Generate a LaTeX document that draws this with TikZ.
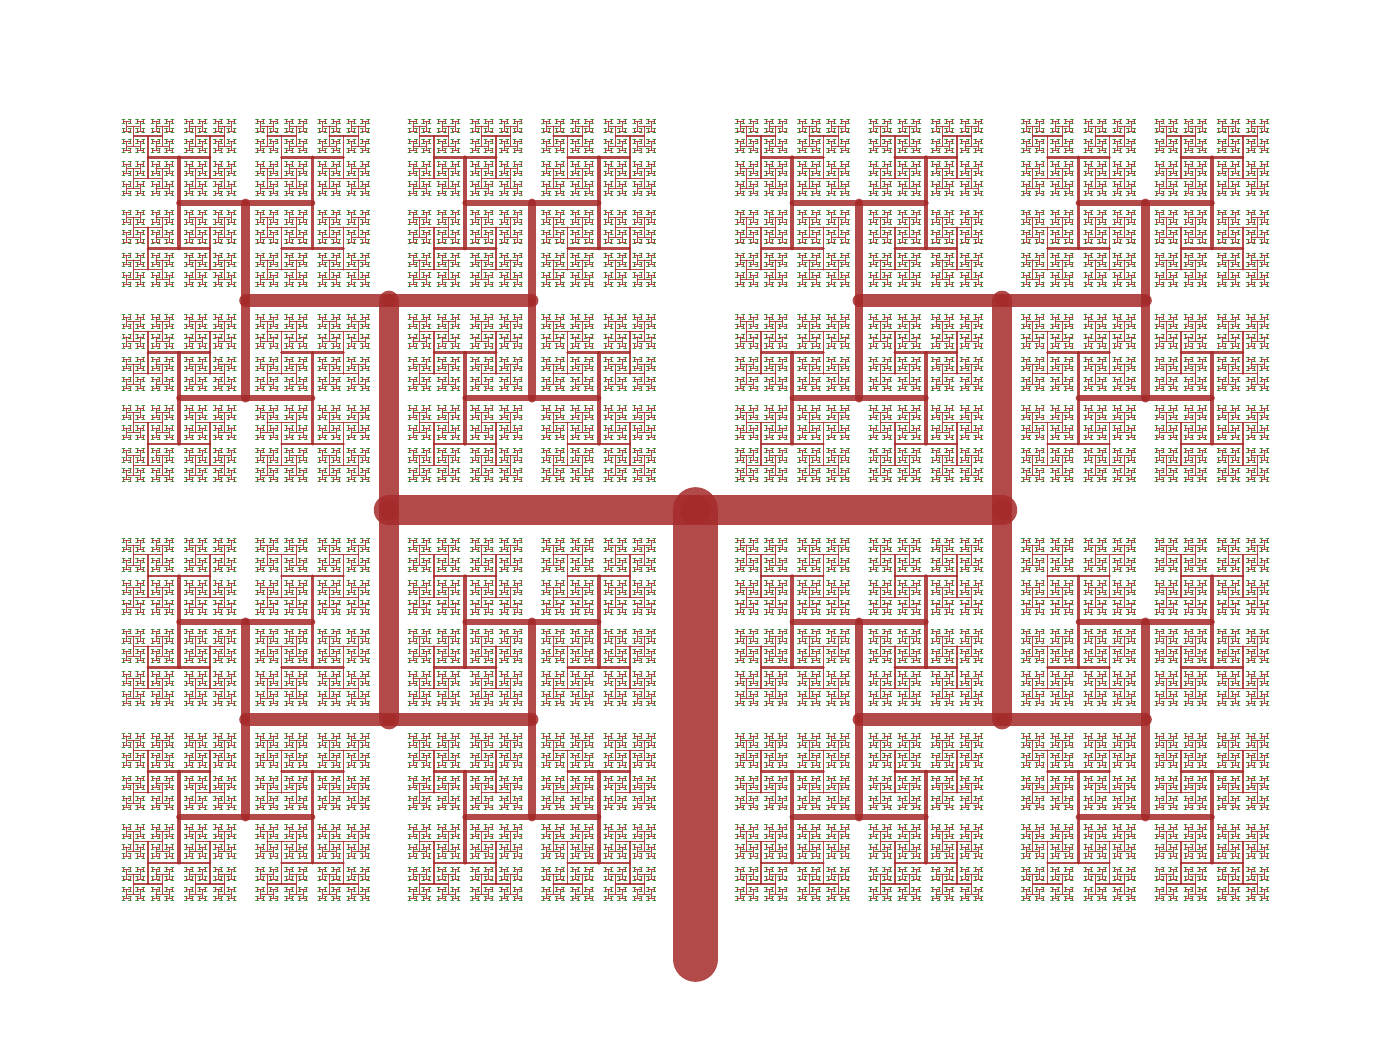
\documentclass[tikz,border=0pt]{standalone}
\definecolor{treebrown}{RGB}{165,42,42}
\definecolor{leafgreen}{RGB}{34,139,34}
\newdimen\tpx \newdimen\tpy \newdimen\tqx \newdimen\tqy
\newdimen\tlen \newdimen\twid \newdimen\tminw \newdimen\tleafw
\newcount\tux \newcount\tuy \newcount\tlev \newcount\ttmp
\newsavebox\clusterbox
\def\tmaxlev{15}
\def\tsplit{99}
\def\lenratio{0.683}
\def\widratio{0.66}
\tminw=0.32pt
\tleafw=0.8pt
\def\growtree{%
  \tqx=\dimexpr\tpx+\tux\tlen\relax
  \tqy=\dimexpr\tpy+\tuy\tlen\relax
  \ifnum\tlev=\tmaxlev\relax
    \pgfsetstrokecolor{leafgreen}%
    \pgfsetlinewidth{\tleafw}%
  \else
    \pgfsetstrokecolor{treebrown}%
    \ifdim\twid<\tminw
      \pgfsetlinewidth{\tminw}%
    \else
      \pgfsetlinewidth{\twid}%
    \fi
  \fi
  \pgfpathmoveto{\pgfqpoint{\tpx}{\tpy}}%
  \pgfpathlineto{\pgfqpoint{\tqx}{\tqy}}%
  \pgfusepath{stroke}%
  \ifnum\tlev=\tsplit\relax
    \pgftext[at=\pgfqpoint{\tqx}{\tqy}]{\usebox\clusterbox}%
  \else
  \ifnum\tlev<\tmaxlev\relax
    \begingroup
      \advance\tlev by 1
      \tlen=\lenratio\tlen
      \twid=\widratio\twid
      \tpx=\tqx \tpy=\tqy
      \ttmp=\tux \tux=\tuy \tuy=-\ttmp
      \growtree
      \tux=-\tux \tuy=-\tuy
      \growtree
    \endgroup
  \fi
  \fi
}
\begin{document}
% cluster of levels 9..15, rooted at an end point of a level-8 (vertical) branch
\sbox\clusterbox{%
\begin{pgfpicture}
\pgfpathrectangle{\pgfqpoint{-40pt}{-40pt}}{\pgfqpoint{80pt}{80pt}}%
\pgfusepath{use as bounding box}%
\pgfsetroundcap
\pgfsetstrokeopacity{0.85}%
\tlen=449pt \twid=45.7pt
\count255=0
\loop\ifnum\count255<9
  \tlen=\lenratio\tlen \twid=\widratio\twid
  \advance\count255 by 1
\repeat
\tpx=0pt \tpy=0pt \tux=1 \tuy=0 \tlev=9
\growtree
\tpx=0pt \tpy=0pt \tux=-1 \tuy=0 \tlev=9
\growtree
\end{pgfpicture}}%
\begin{tikzpicture}
\useasboundingbox (0pt,0pt) rectangle (1378pt,-1058pt);
\begin{scope}
\def\tsplit{8}%
\pgfsetroundcap
\pgfsetstrokeopacity{0.85}
\tpx=695.5pt \tpy=-959pt \tux=0 \tuy=1 \tlen=449pt \twid=45.7pt \tlev=0
\growtree
\end{scope}
\end{tikzpicture}
\end{document}
